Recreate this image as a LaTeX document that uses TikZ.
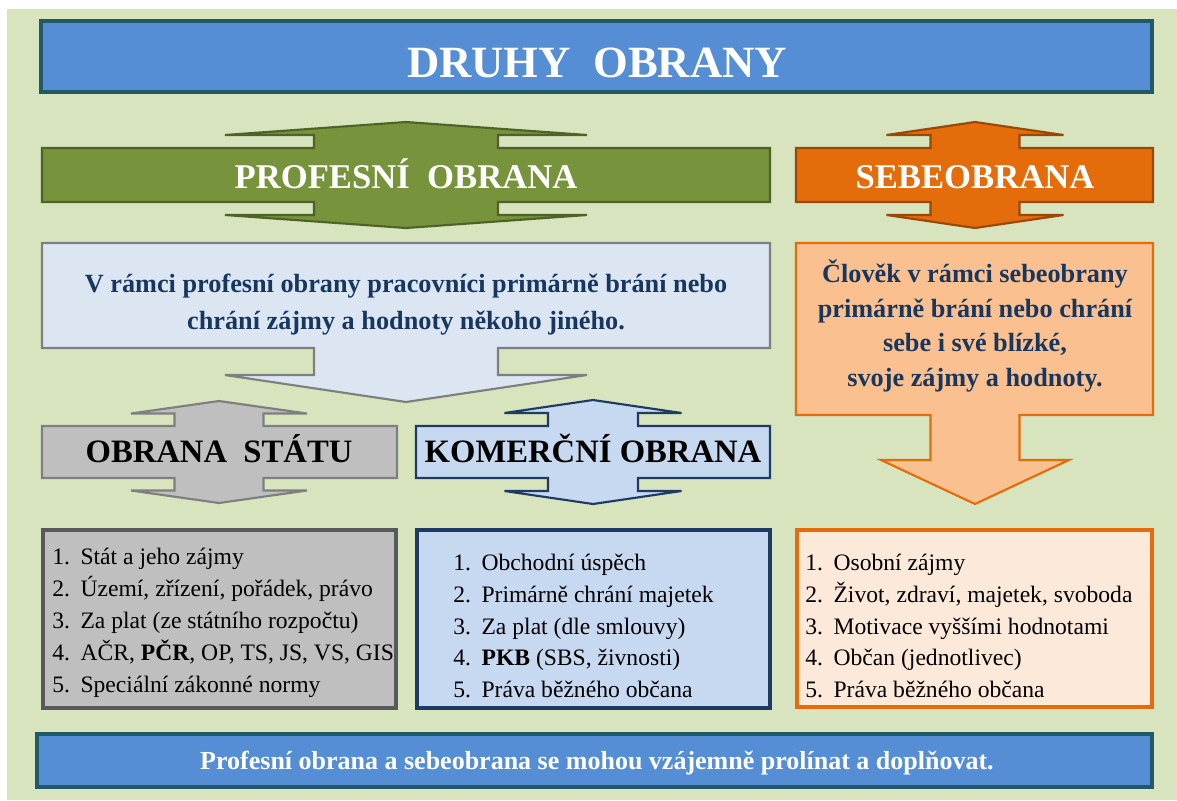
\documentclass[tikz,border=0pt]{standalone}
\usepackage{fontspec}
\setmainfont{Liberation Serif}
\usepackage{tikz}
\usetikzlibrary{positioning,calc}

\definecolor{bgGreen}{HTML}{D7E4BD}
\definecolor{titleBlue}{HTML}{558ED5}
\definecolor{titleEdge}{HTML}{215968}
\definecolor{profGreen}{HTML}{77933C}
\definecolor{profEdge}{HTML}{4F6228}
\definecolor{sebeOrange}{HTML}{E46C0A}
\definecolor{sebeEdge}{HTML}{984807}
\definecolor{sebeLight}{HTML}{FAC090}
\definecolor{sebePale}{HTML}{FDE9D9}
\definecolor{callBlue}{HTML}{DCE6F2}
\definecolor{komBlue}{HTML}{C6D9F1}
\definecolor{komEdge}{HTML}{1F3B63}
\definecolor{statGray}{HTML}{BFBFBF}
\definecolor{statEdge}{HTML}{7F7F7F}
\definecolor{navyText}{HTML}{17375E}

% bar with an up and a down arrow head through its middle
% #1 style, #2 centre x, #3 left, #4 right, #5 top, #6 bottom,
% #7 neck half width, #8 head half width, #9 step
\newcommand\barArrow[9]{%
  \draw[#1] (#3,#5) -- ({#2-#7},#5) -- ({#2-#7},{#5-#9})
    -- ({#2-#8},{#5-#9}) -- (#2,{#5-2*#9}) -- ({#2+#8},{#5-#9})
    -- ({#2+#7},{#5-#9}) -- ({#2+#7},#5) -- (#4,#5) -- (#4,#6)
    -- ({#2+#7},#6) -- ({#2+#7},{#6+#9}) -- ({#2+#8},{#6+#9})
    -- (#2,{#6+2*#9}) -- ({#2-#8},{#6+#9}) -- ({#2-#7},{#6+#9})
    -- ({#2-#7},#6) -- (#3,#6) -- cycle;}

\begin{document}
\begin{tikzpicture}[x=0.75pt, y=-0.75pt,
  thinedge/.style={line width=1.6pt, line join=miter},
  boldedge/.style={line width=3pt, line join=miter},
  headline/.style={font=\fontsize{26}{30}\selectfont\bfseries, text=white,
    anchor=base},
  subline/.style={font=\fontsize{24.5}{28}\selectfont\bfseries, text=black,
    anchor=base},
  bodytext/.style={font=\fontsize{19.7}{27.7}\selectfont\bfseries,
    text=navyText, align=center},
  listtext/.style={font=\fontsize{17.7}{23.9}\selectfont, align=left,
    anchor=west, inner sep=0pt},
]
  \useasboundingbox (0,0) rectangle (1177,800);
  \fill[bgGreen] (7,9) rectangle (1177,800);

  % title and footer bars
  \draw[boldedge, draw=titleEdge, fill=titleBlue] (41,21) rectangle (1152,92);
  \node[font=\fontsize{33.5}{38}\selectfont\bfseries, text=white, anchor=base]
    (title) at (597,77) {DRUHY~~OBRANY};
  \draw[boldedge, draw=titleEdge, fill=titleBlue] (37,734) rectangle (1152,787);
  \node[font=\fontsize{19.5}{22}\selectfont\bfseries, text=white, anchor=base]
    (footer) at (597,769)
    {Profesní obrana a sebeobrana se mohou vzájemně prolínat a doplňovat.};

  % headline arrows
  \barArrow{thinedge, draw=profEdge, fill=profGreen}{406}{42}{770}{148}{202}{92}{181}{13}
  \node[headline] (profesni) at (406,188) {PROFESNÍ~~OBRANA};
  \barArrow{thinedge, draw=sebeEdge, fill=sebeOrange}{975}{796}{1153}{148}{202}{44.5}{88.5}{13}
  \node[headline] (sebe) at (975,188) {SEBEOBRANA};

  % callouts with a down arrow
  \draw[thinedge, draw=statEdge, fill=callBlue] (42,243) -- (770,243) -- (770,348)
    -- (498,348) -- (498,375) -- (587,375) -- (406,402) -- (225,375)
    -- (314,375) -- (314,348) -- (42,348) -- cycle;
  \node[bodytext] (profText) at (406,305)
    {V rámci profesní obrany pracovníci primárně brání nebo\\
     chrání zájmy a hodnoty někoho jiného.};
  \draw[thinedge, draw=sebeOrange, fill=sebeLight] (796,243) -- (1153,243) -- (1153,415)
    -- ({975+44.5},415) -- ({975+44.5},460) -- (1069,460) -- (975,504) -- (881,460)
    -- ({975-44.5},460) -- ({975-44.5},415) -- (796,415) -- cycle;
  \node[bodytext, font=\fontsize{19.7}{25.8}\selectfont\bfseries]
    (sebeText) at (975,326)
    {Člověk v rámci sebeobrany\\primárně brání nebo chrání\\
     sebe i své blízké,\\svoje zájmy a hodnoty.};

  % second level arrows
  \barArrow{thinedge, draw=statEdge, fill=statGray}{219}{42}{397}{426}{478}{44.5}{88}{12.5}
  \node[subline] (statu) at (219,462) {OBRANA~~STÁTU};
  \barArrow{thinedge, draw=komEdge, fill=komBlue}{593}{416}{770}{426}{478}{45}{88.5}{13}
  \node[subline] (komer) at (593,462) {KOMERČNÍ OBRANA};

  % lists
  \draw[boldedge, draw=black!65, fill=statGray] (43,530) rectangle (396,708);
  \node[listtext] (statuList) at (52,623)
    {1.\hspace{0.45em}Stát a jeho zájmy\\
     2.\hspace{0.45em}Území, zřízení, pořádek, právo\\
     3.\hspace{0.45em}Za plat (ze státního rozpočtu)\\
     4.\hspace{0.45em}AČR, \textbf{PČR}, OP, TS, JS, VS, GIS\\
     5.\hspace{0.45em}Speciální zákonné normy};
  \draw[boldedge, draw=komEdge, fill=komBlue] (417,530) rectangle (770,708);
  \node[listtext] (komerList) at (453,626)
    {1.\hspace{0.45em}Obchodní úspěch\\
     2.\hspace{0.45em}Primárně chrání majetek\\
     3.\hspace{0.45em}Za plat (dle smlouvy)\\
     4.\hspace{0.45em}\textbf{PKB} (SBS, živnosti)\\
     5.\hspace{0.45em}Práva běžného občana};
  \draw[boldedge, draw=sebeOrange, fill=sebePale] (797,530) rectangle (1152,707);
  \node[listtext] (sebeList) at (805,626)
    {1.\hspace{0.45em}Osobní zájmy\\
     2.\hspace{0.45em}Život, zdraví, majetek, svoboda\\
     3.\hspace{0.45em}Motivace vyššími hodnotami\\
     4.\hspace{0.45em}Občan (jednotlivec)\\
     5.\hspace{0.45em}Práva běžného občana};
\end{tikzpicture}
\end{document}
